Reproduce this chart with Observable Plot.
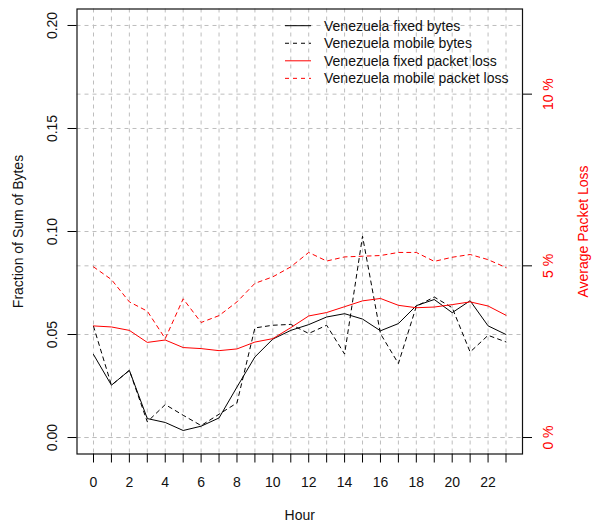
<!DOCTYPE html>
<html>
<head>
<meta charset="utf-8">
<script src="https://cdn.jsdelivr.net/npm/d3@7"></script>
<script src="https://cdn.jsdelivr.net/npm/@observablehq/plot@0.6"></script>
<style>
  html, body { margin: 0; padding: 0; background: #fff; }
  #chart { width: 592px; height: 529px; }
</style>
</head>
<body>
<div id="chart"></div>
<script>
// ---- data ----
const hours = [0,1,2,3,4,5,6,7,8,9,10,11,12,13,14,15,16,17,18,19,20,21,22,23];
const fixedBytes  = [0.0403,0.0254,0.0326,0.0092,0.0073,0.0034,0.0055,0.0095,0.0245,0.0391,0.0478,0.0520,
                     0.0548,0.0585,0.0601,0.0575,0.0518,0.0553,0.0640,0.0670,0.0606,0.0664,0.0542,0.0500];
const mobileBytes = [0.0540,0.0254,0.0326,0.0076,0.0160,0.0108,0.0058,0.0113,0.0168,0.0532,0.0545,0.0549,
                     0.0505,0.0545,0.0405,0.0977,0.0504,0.0359,0.0637,0.0682,0.0630,0.0415,0.0496,0.0464];
const fixedLossPct  = [3.25,3.22,3.12,2.77,2.84,2.62,2.59,2.53,2.58,2.78,2.88,3.20,
                       3.54,3.64,3.81,3.98,4.05,3.85,3.78,3.80,3.87,3.95,3.83,3.56];
const mobileLossPct = [4.97,4.60,3.95,3.68,2.88,4.04,3.35,3.55,3.95,4.49,4.68,4.97,
                       5.39,5.14,5.26,5.28,5.30,5.39,5.39,5.13,5.25,5.33,5.18,4.95];
const leftTicks = [0, 0.05, 0.10, 0.15, 0.20];
const lossTicks = [0, 5, 10];
const seriesNames = ["Venezuela fixed bytes","Venezuela mobile bytes","Venezuela fixed packet loss","Venezuela mobile packet loss"];
const seriesColors = ["black","black","red","red"];
const seriesDash = [null,"4,4",null,"4,4"];

// packet loss axis: 0..12 % occupies the same span as 0..0.20 bytes
const bytesMax = 0.20, lossMax = 12;
const lossToY = p => p / lossMax * bytesMax;

const rows = hours.map((h, i) => ({
  hour: h, fb: fixedBytes[i], mb: mobileBytes[i],
  fl: lossToY(fixedLossPct[i]), ml: lossToY(mobileLossPct[i])
}));

const FONT = "'Liberation Sans', Arial, Helvetica, sans-serif";
const gridStyle = {stroke: "#bebebe", strokeOpacity: 1, strokeDasharray: "4,4", strokeWidth: 1};

const padX = 0.04 * (hours[hours.length-1] - hours[0]);
const padY = 0.04 * bytesMax;

const plot = Plot.plot({
  width: 592,
  height: 529,
  marginLeft: 76.5,
  marginRight: 70,
  marginTop: 8.5,
  marginBottom: 75.5,
  style: {fontSize: "14px", fontFamily: FONT, background: "white", color: "black"},
  x: {domain: [hours[0] - padX, hours[hours.length-1] + padX], axis: null},
  y: {domain: [-padY, bytesMax + padY], axis: null},
  marks: [
    Plot.gridX(hours, gridStyle),
    Plot.gridY(leftTicks, gridStyle),
    Plot.gridY(lossTicks.map(lossToY), gridStyle),
    Plot.lineY(rows, {x: "hour", y: "fb", stroke: seriesColors[0], strokeWidth: 1}),
    Plot.lineY(rows, {x: "hour", y: "mb", stroke: seriesColors[1], strokeWidth: 1, strokeDasharray: seriesDash[1]}),
    Plot.lineY(rows, {x: "hour", y: "fl", stroke: seriesColors[2], strokeWidth: 1}),
    Plot.lineY(rows, {x: "hour", y: "ml", stroke: seriesColors[3], strokeWidth: 1, strokeDasharray: seriesDash[3]}),
    Plot.frame({stroke: "#111", strokeWidth: 1.2}),
    // bottom axis
    Plot.axisX(hours, {tickSize: 9, tickPadding: 14, label: null,
      tickFormat: d => d % 2 === 0 ? String(d) : "", fontSize: 14, stroke: "black", fill: "#111"}),
    // left axis
    Plot.axisY(leftTicks, {anchor: "left", tickSize: 9, label: null, tickFormat: () => "", stroke: "black"}),
    Plot.text(leftTicks, {y: d => d, text: d => d3.format(".2f")(d), frameAnchor: "left", dx: -24.5,
      rotate: -90, textAnchor: "middle", lineAnchor: "middle", fontSize: 14, fill: "#111"}),
    // right axis
    Plot.axisY(lossTicks.map(lossToY), {anchor: "right", tickSize: 9, label: null, tickFormat: () => "", stroke: "black"}),
    Plot.text(lossTicks, {y: d => lossToY(d), text: d => d + " %", frameAnchor: "right", dx: 26.5,
      rotate: -90, textAnchor: "middle", lineAnchor: "middle", fontSize: 14, fill: "red"}),
    // axis titles
    Plot.text(["Hour"], {text: d => d, frameAnchor: "bottom", dy: 62, lineAnchor: "middle", fontSize: 14, fill: "#111"}),
    Plot.text(["Fraction of Sum of Bytes"], {text: d => d, frameAnchor: "left", dx: -58.5, rotate: -90,
      textAnchor: "middle", lineAnchor: "middle", fontSize: 14, fill: "#111"}),
    Plot.text(["Average Packet Loss"], {text: d => d, frameAnchor: "right", dx: 61, rotate: -90,
      textAnchor: "middle", lineAnchor: "middle", fontSize: 14, fill: "red"})
  ]
});

document.getElementById("chart").appendChild(plot);

// legend (top-right inside the plot area, no box)
const svg = d3.select(plot);
const lg = svg.append("g").attr("font-family", FONT).attr("font-size", 14).attr("text-anchor", "start");
seriesNames.forEach((name, i) => {
  const cy = 25.7 + i * 17.55;
  lg.append("line").attr("x1", 285).attr("x2", 311).attr("y1", cy).attr("y2", cy)
    .attr("stroke", seriesColors[i]).attr("stroke-width", 1)
    .attr("stroke-dasharray", seriesDash[i]);
  lg.append("text").attr("x", 324).attr("y", cy).attr("dy", "0.35em")
    .attr("fill", "#111").text(name);
});
</script>
</body>
</html>
